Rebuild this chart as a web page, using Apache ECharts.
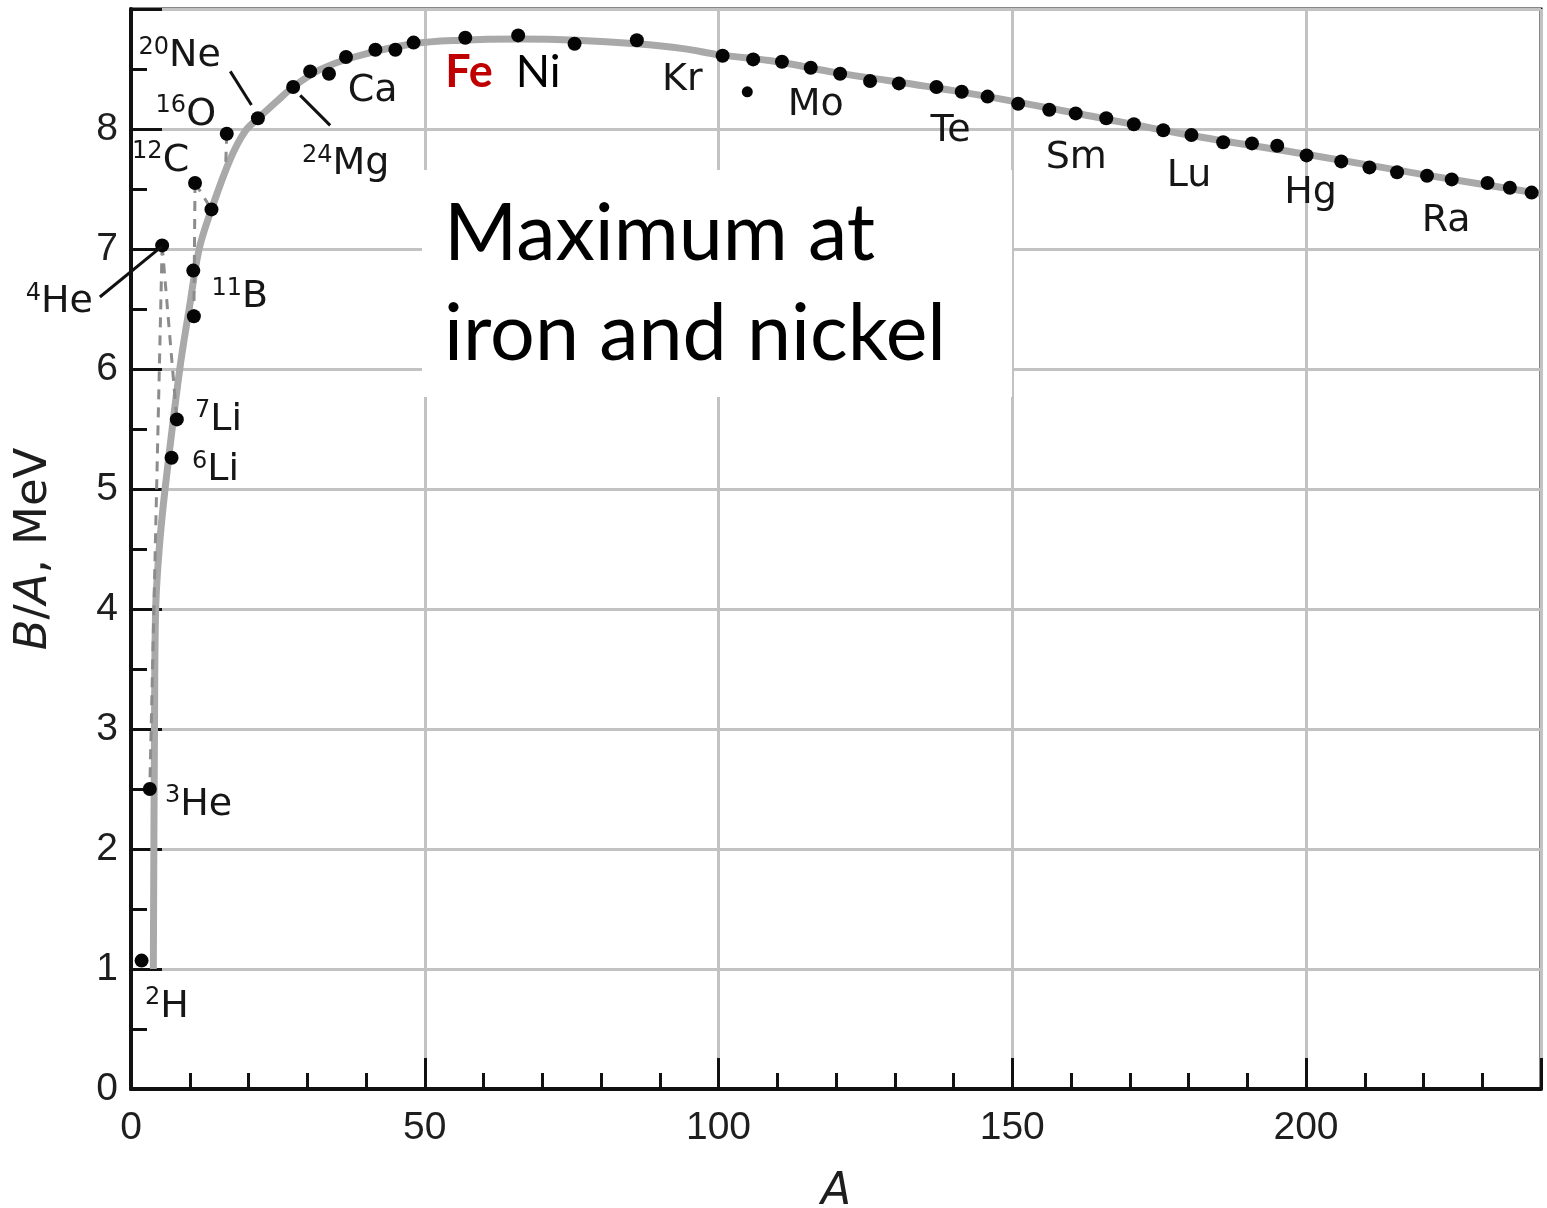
<!DOCTYPE html>
<html>
<head>
<meta charset="utf-8">
<title>Binding energy per nucleon</title>
<script src="https://cdn.jsdelivr.net/npm/echarts@6/dist/echarts.min.js"></script>
<style>
html, body { margin: 0; padding: 0; background: #fff; }
#chart { width: 1547px; height: 1208px; }
</style>
</head>
<body>
<div id="chart"></div>
<script>
// measured nuclei: mass number A and B/A in MeV
const dotA = [1.8, 3.2, 6.9, 7.8, 5.3, 10.7, 10.6, 10.9, 13.7, 16.3, 21.6, 27.6, 30.5, 33.7, 36.6,
  41.6, 45.0, 48.1, 56.9, 65.9, 75.5, 86.1, 100.7, 105.9, 110.8, 115.7, 120.7, 125.8, 130.7, 137.1,
  141.4, 145.8, 151.0, 156.3, 160.8, 166.0, 170.7, 175.7, 180.5, 185.9, 190.8, 195.1, 200.1, 206.0,
  210.8, 215.5, 220.6, 224.8, 230.9, 234.7, 238.4]
const dotB = [1.07, 2.50, 5.26, 5.58, 7.03, 6.44, 6.82, 7.55, 7.33, 7.96, 8.09, 8.35, 8.48, 8.46, 8.60,
  8.66, 8.66, 8.72, 8.76, 8.78, 8.71, 8.74, 8.61, 8.58, 8.56, 8.51, 8.46, 8.40, 8.38, 8.35,
  8.31, 8.27, 8.21, 8.16, 8.13, 8.09, 8.04, 7.99, 7.95, 7.89, 7.88, 7.86, 7.78, 7.73,
  7.68, 7.64, 7.61, 7.58, 7.55, 7.51, 7.47]
// the single point off the curve near Mo
const offA = [104.9]
const offB = [8.31]

// smooth trend curve
const curveA = [3.8, 4.0, 4.2, 4.8, 5.8, 8.3, 9.9, 11.6, 13.7, 16.9, 19.4, 21.9, 24.8, 27.6, 32, 38,
  48, 56, 66, 76, 86, 94, 100, 110, 120, 140, 160, 180, 200, 220, 240]
const curveB = [1.0, 3.0, 4.0, 4.5, 5.0, 6.0, 6.5, 7.0, 7.33, 7.75, 7.98, 8.1, 8.23, 8.35, 8.49, 8.6,
  8.71, 8.74, 8.75, 8.74, 8.71, 8.67, 8.62, 8.56, 8.47, 8.32, 8.14, 7.95, 7.79, 7.62, 7.46]

// dashed connectors between light nuclei [[A, B], [A, B]]
const dashedLinks = [
  [[5.3, 7.03], [3.2, 2.50]],
  [[5.3, 7.03], [7.8, 5.58]],
  [[10.9, 7.55], [10.7, 6.44]],
  [[10.9, 7.55], [13.7, 7.33]],
  [[16.3, 7.96], [16.1, 7.68]]
]
// solid leader lines from labels to points
const leaderLinks = [
  [[-5.3, 6.60], [5.2, 7.02]],
  [[16.9, 8.48], [20.5, 8.20]],
  [[28.8, 8.28], [33.9, 8.03]]
]

// isotope / element labels
const isoMass = ['20', '16', '12', '4', '11', '7', '6', '3', '2', '', '24', '', '', '', '', '', '', '']
const isoElem = ['Ne', 'O', 'C', 'He', 'B', 'Li', 'Li', 'He', 'H', 'Ca', 'Mg', 'Kr', 'Mo', 'Te', 'Sm', 'Lu', 'Hg', 'Ra']
const isoA = [1.2, 4.1, 0.1, -18.0, 13.6, 10.8, 10.3, 5.7, 2.3, 36.8, 29.0, 90.3, 111.7, 136.0, 155.6, 176.2, 196.2, 219.6]
const isoB = [8.63, 8.14, 7.76, 6.58, 6.62, 5.60, 5.18, 2.39, 0.71, 8.34, 7.73, 8.43, 8.22, 8.01, 7.78, 7.63, 7.49, 7.26]

const peakNames = ['Fe', 'Ni']
const peakA = [53.4, 65.4]
const peakB = [8.47, 8.47]

const xTicks = [0, 50, 100, 150, 200]
const yTicks = [0, 1, 2, 3, 4, 5, 6, 7, 8]

const helv = 'Liberation Sans, Arial, sans-serif'
const wide = 'DejaVu Sans, sans-serif'
const cal = 'Lato, Open Sans, sans-serif'

const chart = echarts.init(document.getElementById('chart'))

const zip = (a, b) => a.map((v, i) => [v, b[i]])

const dashedSeries = dashedLinks.map(p => ({
  type: 'line',
  data: p,
  symbol: 'none',
  silent: true,
  lineStyle: { color: '#8c8c8c', width: 3, type: [10, 8] },
  z: 3
}))

chart.setOption({
  animation: false,
  grid: {
    left: 131, right: 6, top: 9, bottom: 119,
    outerBoundsMode: 'none',
    containLabel: false,
    show: true, borderColor: '#111', borderWidth: 3, backgroundColor: '#fff'
  },
  xAxis: {
    type: 'value', min: 0, max: 240, interval: 50,
    name: 'A', nameLocation: 'middle', nameGap: 82,
    nameTextStyle: { fontFamily: wide, fontSize: 44, fontStyle: 'italic', color: '#1e1e1e' },
    axisLine: { lineStyle: { color: '#111', width: 4 } },
    axisTick: { inside: true, length: 31, lineStyle: { color: '#111', width: 3 } },
    minorTick: { show: true, splitNumber: 5, length: 16, lineStyle: { color: '#111', width: 3 } },
    axisLabel: {
      margin: 20, fontFamily: helv, fontSize: 39, color: '#1e1e1e', showMaxLabel: false,
      formatter: v => xTicks.includes(v) ? String(v) : ''
    },
    splitLine: { show: true, lineStyle: { color: '#c2c2c2', width: 3 } }
  },
  yAxis: {
    type: 'value', min: 0, max: 9, interval: 1,
    name: '{i|B}{r|/}{i|A}{r|, MeV}', nameLocation: 'middle', nameGap: 74,
    nameTextStyle: {
      color: '#1e1e1e',
      rich: {
        i: { fontFamily: wide, fontSize: 45, fontStyle: 'italic', color: '#1e1e1e' },
        r: { fontFamily: wide, fontSize: 45, color: '#1e1e1e' }
      }
    },
    axisLine: { lineStyle: { color: '#111', width: 4 } },
    axisTick: { inside: true, length: 31, lineStyle: { color: '#111', width: 3 } },
    minorTick: { show: true, splitNumber: 2, length: 16, lineStyle: { color: '#111', width: 3 } },
    axisLabel: {
      margin: 13, fontFamily: helv, fontSize: 39, color: '#1e1e1e', showMaxLabel: false,
      formatter: v => yTicks.includes(v) ? String(v) : ''
    },
    splitLine: { show: true, lineStyle: { color: '#c2c2c2', width: 3 } }
  },
  series: [
    {
      type: 'line',
      data: zip(curveA, curveB),
      smooth: 0.35,
      symbol: 'none',
      silent: true,
      lineStyle: { color: '#a9a9a9', width: 7 },
      z: 2
    },
    ...dashedSeries,
    {
      type: 'scatter',
      data: zip(dotA, dotB),
      symbolSize: 14,
      itemStyle: { color: '#050505', opacity: 1 },
      silent: true,
      z: 5
    },
    {
      type: 'scatter',
      data: zip(offA, offB),
      symbolSize: 11,
      itemStyle: { color: '#050505', opacity: 1 },
      silent: true,
      z: 5
    },
    {
      type: 'scatter',
      data: isoA.map((a, i) => ({ value: [a, isoB[i]], mass: isoMass[i], elem: isoElem[i] })),
      symbolSize: 1,
      itemStyle: { color: 'rgba(0,0,0,0)', opacity: 1 },
      clip: false,
      silent: true,
      z: 6,
      label: {
        show: true,
        position: 'right',
        distance: 0,
        offset: [0, 3],
        formatter: p => (p.data.mass ? '{m|' + p.data.mass + '}' : '') + '{e|' + p.data.elem + '}',
        rich: {
          e: { fontFamily: wide, fontSize: 38, lineHeight: 42, color: '#161616' },
          m: { fontFamily: wide, fontSize: 24, lineHeight: 14, verticalAlign: 'top', color: '#161616' }
        }
      }
    },
    {
      type: 'scatter',
      data: peakA.map((a, i) => ({ value: [a, peakB[i]], name: peakNames[i] })),
      symbolSize: 1,
      itemStyle: { color: 'rgba(0,0,0,0)', opacity: 1 },
      clip: false,
      silent: true,
      z: 6,
      label: {
        show: true,
        position: 'right',
        distance: 0,
        formatter: p => p.name === 'Fe' ? '{fe|Fe}' : '{ni|Ni}',
        rich: {
          fe: { fontFamily: cal, fontSize: 45, fontWeight: 'bold', color: '#c00000' },
          ni: { fontFamily: cal, fontSize: 45, color: '#000' }
        }
      }
    }
  ]
})

// leader lines go outside the plot area, so draw them as graphics placed through the axes
const leaderGraphics = leaderLinks.map(seg => {
  const p1 = chart.convertToPixel({ gridIndex: 0 }, seg[0])
  const p2 = chart.convertToPixel({ gridIndex: 0 }, seg[1])
  return {
    type: 'line',
    shape: { x1: p1[0], y1: p1[1], x2: p2[0], y2: p2[1] },
    style: { stroke: '#111', lineWidth: 3 },
    silent: true,
    z: 50
  }
})

chart.setOption({
  graphic: [
    {
      type: 'rect',
      shape: { x: 422, y: 170, width: 590, height: 227 },
      style: { fill: '#fff' },
      z: 100
    },
    {
      type: 'text',
      x: 444, y: 185,
      style: {
        text: 'Maximum at\niron and nickel',
        fontFamily: cal, fontSize: 79, lineHeight: 100, fill: '#000'
      },
      z: 101
    },
    ...leaderGraphics
  ]
})
</script>
</body>
</html>
